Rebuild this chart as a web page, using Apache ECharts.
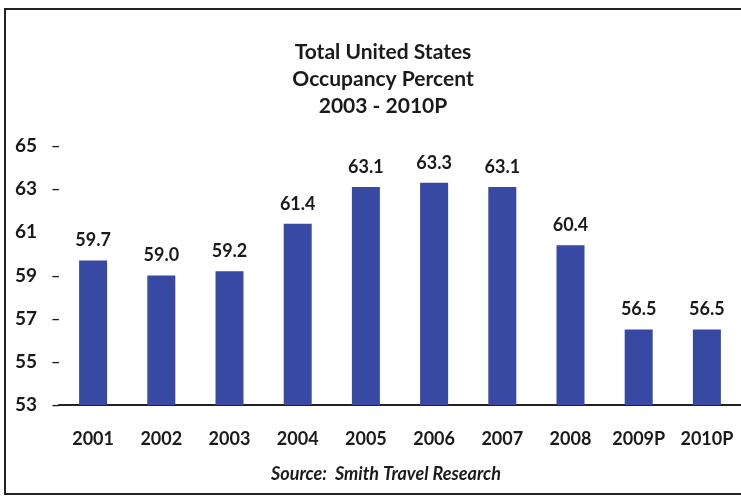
<!DOCTYPE html>
<html><head><meta charset="utf-8">
<script src="https://cdn.jsdelivr.net/npm/echarts@6/dist/echarts.min.js"></script>
<style>html,body{margin:0;padding:0;background:#fff}#c{width:741px;height:497px}</style>
</head><body><div id="c"></div>
<script>
var categories = ['2001','2002','2003','2004','2005','2006','2007','2008','2009P','2010P'];
var occupancy = [59.7, 59.0, 59.2, 61.4, 63.1, 63.3, 63.1, 60.4, 56.5, 56.5];
var yTicks = [53, 55, 57, 59, 61, 63, 65];
var titleLines = ['Total United States', 'Occupancy Percent', '2003 - 2010P'];
var sourceText = 'Source:  Smith Travel Research';

var FONT = 'Lato';
var INK = '#1a1a1a';
var chart = echarts.init(document.getElementById('c'));
chart.setOption({
  backgroundColor: '#fff',
  animation: false,
  title: [{
    text: titleLines.join('\n'),
    left: 378, top: 34, textAlign: 'center',
    textStyle: { fontFamily: FONT, fontWeight: 'bold', fontSize: 21, lineHeight: 27, color: INK }
  }, {
    text: sourceText,
    left: 381, top: 460, textAlign: 'center',
    textStyle: { fontFamily: FONT, fontWeight: 'bold', fontStyle: 'italic', fontSize: 18, color: INK }
  }],
  graphic: [{
    type: 'rect', shape: { x: 5, y: 9, width: 800, height: 485 },
    style: { fill: 'none', stroke: '#222', lineWidth: 2 }, silent: true
  }],
  grid: { left: 59, right: -4, top: 146, bottom: 92 },
  xAxis: {
    type: 'category', data: categories,
    axisLine: { show: true, lineStyle: { color: '#222', width: 2 } },
    axisTick: { show: false },
    axisLabel: { margin: 25, fontFamily: FONT, fontWeight: 'bold', fontSize: 18, color: INK, interval: 0 }
  },
  yAxis: {
    type: 'value', min: 53, max: 65, interval: 2,
    axisLine: { show: false }, axisTick: { show: false }, splitLine: { show: false },
    axisLabel: {
      align: 'left', margin: 44,
      formatter: function (v) { return yTicks.indexOf(v) >= 0 ? (v === 61 ? '{n|' + v + '}' : '{n|' + v + '}{d|–}') : ''; },
      rich: {
        n: { width: 36, fontFamily: FONT, fontWeight: 'bold', fontSize: 19, color: INK },
        d: { fontFamily: FONT, fontWeight: 'bold', fontSize: 16, color: INK }
      }
    }
  },
  series: [{
    type: 'bar', data: occupancy, barWidth: 28,
    itemStyle: { color: '#3849a3' },
    label: {
      show: true, position: 'top', distance: 11,
      formatter: function (p) { return p.value.toFixed(1); },
      fontFamily: FONT, fontWeight: 'bold', fontSize: 18, color: INK
    }
  }]
});
</script></body></html>
